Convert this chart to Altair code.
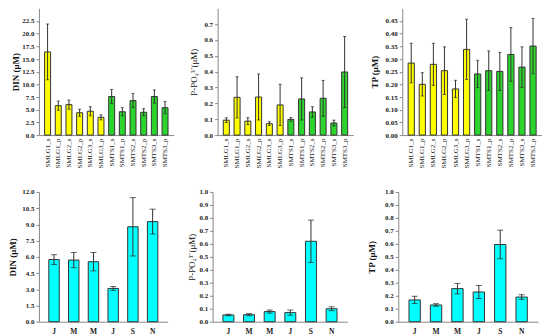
import altair as alt
import pandas as pd

# ---- data ----
sites = ["SMLG1_s", "SMLG1_p", "SMLG2_s", "SMLG2_p", "SMLG3_s", "SMLG3_p",
         "SMTS1_s", "SMTS1_p", "SMTS2_s", "SMTS2_p", "SMTS3_s", "SMTS3_p"]
site_group = ["SMLG"] * 6 + ["SMTS"] * 6

din_site = [16.4, 5.8, 6.0, 4.4, 4.7, 3.5, 7.6, 4.6, 6.8, 4.5, 7.6, 5.4]
din_site_err = [5.5, 0.9, 0.9, 0.7, 0.9, 0.5, 1.4, 0.8, 1.4, 0.7, 1.3, 1.2]

p_site = [0.094, 0.238, 0.088, 0.240, 0.072, 0.190, 0.099, 0.228, 0.146, 0.232, 0.076, 0.398]
p_site_err = [0.015, 0.130, 0.022, 0.145, 0.012, 0.130, 0.012, 0.133, 0.033, 0.113, 0.018, 0.224]

tp_site = [0.284, 0.200, 0.279, 0.254, 0.182, 0.338, 0.241, 0.254, 0.251, 0.318, 0.268, 0.351]
tp_site_err = [0.078, 0.046, 0.083, 0.094, 0.034, 0.119, 0.054, 0.078, 0.075, 0.106, 0.080, 0.109]

months = ["J1", "M1", "M2", "J2", "S", "N"]
month_labels = ["J", "M", "M", "J", "S", "N"]

din_month = [5.75, 5.70, 5.55, 3.08, 8.78, 9.26]
din_month_err = [0.45, 0.70, 0.85, 0.18, 2.70, 1.15]

p_month = [0.052, 0.054, 0.078, 0.070, 0.620, 0.100]
p_month_err = [0.006, 0.008, 0.012, 0.020, 0.163, 0.015]

tp_month = [0.168, 0.129, 0.255, 0.229, 0.595, 0.190]
tp_month_err = [0.028, 0.010, 0.040, 0.050, 0.110, 0.018]

SERIF = "Liberation Serif"
group_colors = {"SMLG": "#FFFF00", "SMTS": "#2DD42D", "month": "#00FFFF"}


def make_df(cats, vals, errs, groups):
    df = pd.DataFrame({"cat": cats, "val": vals, "err": errs, "grp": groups})
    df["lo"] = df["val"] - df["err"]
    df["hi"] = df["val"] + df["err"]
    return df


def panel(df, cats, w, h, ydom, yticks, fmt, ytitle, title_bold, top_row,
          cap_size, pin, pout, tpad, label_expr=None):
    if top_row:
        xaxis = alt.Axis(title=None, labelAngle=-90, ticks=False, labelFontWeight="normal",
                         labelFontSize=7, labelPadding=3, labelColor="#222",
                         domainColor="#888")
    else:
        xaxis = alt.Axis(title=None, labelAngle=0, ticks=False, labelFontWeight="bold",
                         labelFontSize=7.5, labelPadding=6, labelColor="#222",
                         domainColor="#888", labelExpr=label_expr)
    xscale = alt.Scale(paddingInner=pin, paddingOuter=pout)
    yscale = alt.Scale(domain=ydom, nice=False)
    yaxis = alt.Axis(values=yticks, format=fmt, title=ytitle, labelOverlap=False,
                     titleFontWeight="bold" if title_bold else "normal",
                     titleFont=SERIF, titleFontSize=9, titleColor="#111",
                     titlePadding=tpad)

    def X():
        return alt.X("cat:N", sort=cats, axis=xaxis, scale=xscale)

    def Y(field):
        return alt.Y(field + ":Q", scale=yscale, axis=yaxis, title=ytitle)

    color = alt.Color("grp:N", scale=alt.Scale(domain=list(group_colors.keys()),
                                                range=list(group_colors.values())),
                      legend=None)
    base = alt.Chart(df)
    bars = base.mark_bar(stroke="#333", strokeWidth=1).encode(x=X(), y=Y("val"), color=color)
    rules = base.mark_rule(color="#333", strokeWidth=1).encode(x=X(), y=Y("lo"), y2="hi:Q")
    caps_hi = base.mark_tick(color="#222", thickness=1, size=cap_size).encode(x=X(), y=Y("hi"))
    caps_lo = base.mark_tick(color="#222", thickness=1, size=cap_size).encode(x=X(), y=Y("lo"))
    return alt.layer(bars, rules, caps_hi, caps_lo).properties(width=w, height=h)


top_h = 127
bot_h = 130

t1 = panel(make_df(sites, din_site, din_site_err, site_group), sites, 135, top_h,
           [0, 25], [round(i * 2.5, 2) for i in range(10)], ".1f", "DIN (μM)", True, True,
           3, 0.44, 0.53, 1)
t2 = panel(make_df(sites, p_site, p_site_err, site_group), sites, 136, top_h,
           [0, 0.8], [round(i / 10, 2) for i in range(8)], ".1f", "P-PO₄³⁻(μM)", False, True,
           3, 0.44, 0.53, 5)
t3 = panel(make_df(sites, tp_site, tp_site_err, site_group), sites, 140, top_h,
           [0, 0.5], [round(i * 0.05, 2) for i in range(10)], ".2f", "TP (μM)", True, True,
           3, 0.44, 0.53, 6)

lab = "{'J1':'J','M1':'M','M2':'M','J2':'J','S':'S','N':'N'}[datum.value]"
mg = ["month"] * 6
b1 = panel(make_df(months, din_month, din_month_err, mg), months, 129, bot_h,
           [0, 12], [round(i * 1.5, 2) for i in range(9)], ".1f", "DIN (μM)", True, False,
           6, 0.47, 0.5, 4, lab)
b2 = panel(make_df(months, p_month, p_month_err, mg), months, 135, bot_h,
           [0, 1], [round(i / 10, 2) for i in range(11)], ".1f", "P-PO₄³⁻(μM)", False, False,
           6, 0.47, 0.5, 2, lab)
b3 = panel(make_df(months, tp_month, tp_month_err, mg), months, 140, bot_h,
           [0, 1], [round(i / 10, 2) for i in range(11)], ".1f", "TP (μM)", True, False,
           6, 0.47, 0.5, 8, lab)

top = alt.hconcat(t1, t2, t3, spacing=16)
bot = alt.hconcat(b1, b2, b3, spacing=20)

chart = alt.vconcat(top, bot, spacing=20).properties(
    padding={"left": 0, "top": 0, "right": 0, "bottom": 0}
).configure_view(stroke=None).configure_axis(
    grid=False, labelFont=SERIF, labelFontSize=7, labelFontWeight="bold",
    labelColor="#222", domainColor="#888", tickColor="#888", tickSize=3,
    titleFont=SERIF
).configure_axisY(labelPadding=2)

chart.save("out.html", embed_options={"renderer": "svg", "actions": False})
